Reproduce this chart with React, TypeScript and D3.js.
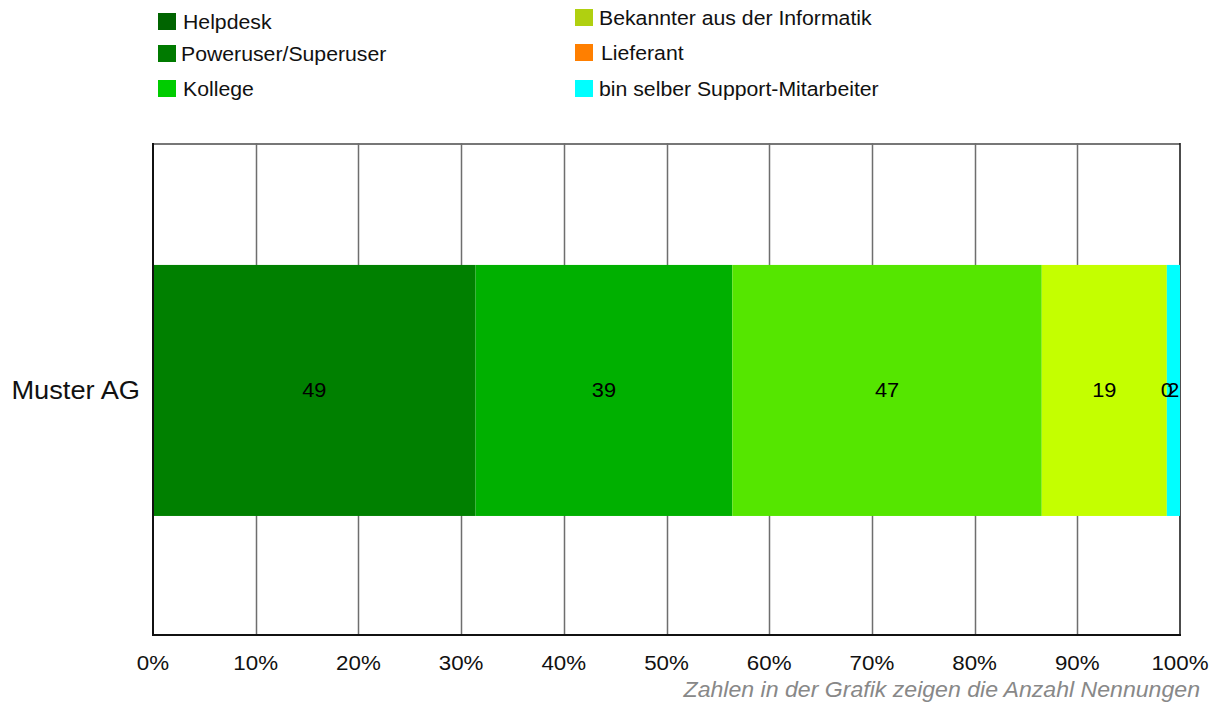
import React from "react";
import * as d3 from "d3";

const categories = ["Muster AG"];
const seriesNames = [
  "Helpdesk",
  "Poweruser/Superuser",
  "Kollege",
  "Bekannter aus der Informatik",
  "Lieferant",
  "bin selber Support-Mitarbeiter",
];
const seriesValues = [49, 39, 47, 19, 0, 2];
const barColors = ["#008000", "#00b000", "#55e600", "#c4ff00", "#ff8000", "#00ffff"];
const legendColors = ["#006400", "#007a00", "#00cc00", "#b0d010", "#ff7f00", "#00ffff"];
const tickValues = [0, 0.1, 0.2, 0.3, 0.4, 0.5, 0.6, 0.7, 0.8, 0.9, 1];
const footnote = "Zahlen in der Grafik zeigen die Anzahl Nennungen";

const W = 1226;
const H = 703;
const plot = { left: 153, right: 1180, top: 143, bottom: 635 };
const font = "Liberation Sans, Arial, sans-serif";
const SX = 1.09; // slightly wide text rendering

type TProps = {
  x: number;
  y: number;
  size: number;
  anchor?: "start" | "middle" | "end";
  fill?: string;
  italic?: boolean;
  children: React.ReactNode;
};

function WideText({ x, y, size, anchor = "start", fill = "#111", italic, children }: TProps) {
  return (
    <text
      transform={`translate(${x},${y}) scale(${SX},1)`}
      textAnchor={anchor}
      fontSize={size}
      fontStyle={italic ? "italic" : "normal"}
      fill={fill}
    >
      {children}
    </text>
  );
}

export default function App() {
  const x = d3.scaleLinear().domain([0, 1]).range([plot.left, plot.right]);
  const y = d3
    .scaleBand()
    .domain(categories)
    .range([plot.top, plot.bottom])
    .paddingInner(0)
    .paddingOuter(0.48)
    .align(0.506);

  const total = d3.sum(seriesValues);
  const stackData = [
    Object.fromEntries(seriesNames.map((n, i) => [n, seriesValues[i] / total])),
  ];
  const stacked = d3.stack<any>().keys(seriesNames)(stackData as any);

  const legendItems = seriesNames.map((name, i) => ({
    name,
    color: legendColors[i],
    col: i < 3 ? 0 : 1,
    row: i % 3,
  }));
  const legendX = [158, 575];
  const legendRowY = [[13, 45, 80], [9, 44, 80]];
  const legendTextDx = [[25, 23, 25], [24, 26, 24]];

  const cat = categories[0];
  const by = y(cat)!;
  const bh = y.bandwidth();

  return (
    <svg
      width={W}
      height={H}
      style={{ position: "absolute", left: 0, top: 0, background: "#fff" }}
      fontFamily={font}
    >
      {/* legend */}
      {legendItems.map((d) => {
        const sy = legendRowY[d.col][d.row];
        return (
          <g key={d.name}>
            <rect x={legendX[d.col]} y={sy} width={18} height={17} fill={d.color} />
            <WideText x={legendX[d.col] + legendTextDx[d.col][d.row]} y={sy + 16} size={19.5}>
              {d.name}
            </WideText>
          </g>
        );
      })}

      {/* top border */}
      <line x1={plot.left} x2={plot.right} y1={plot.top + 1} y2={plot.top + 1} stroke="#777" strokeWidth={2} />

      {/* vertical gridlines */}
      {tickValues.slice(1, -1).map((t) => (
        <line
          key={t}
          x1={Math.round(x(t)) + 0.5}
          x2={Math.round(x(t)) + 0.5}
          y1={plot.top}
          y2={plot.bottom}
          stroke="#6e6e6e"
          strokeWidth={1.5}
        />
      ))}
      <line x1={plot.right} x2={plot.right} y1={plot.top} y2={plot.bottom} stroke="#111" strokeWidth={1.5} />

      {/* stacked bar */}
      {stacked.map((s, i) => {
        const seg = s[0];
        const x0 = x(seg[0]);
        const x1 = x(seg[1]);
        return (
          <rect key={s.key} x={x0} y={by} width={Math.max(0, x1 - x0)} height={bh} fill={barColors[i]} />
        );
      })}
      {stacked.map((s, i) => {
        const seg = s[0];
        const cx = (x(seg[0]) + x(seg[1])) / 2;
        return (
          <WideText key={"l" + s.key} x={cx} y={by + bh / 2 + 7} anchor="middle" size={20} fill="#000">
            {seriesValues[i]}
          </WideText>
        );
      })}

      {/* axes */}
      <line x1={plot.left} x2={plot.left} y1={plot.top} y2={plot.bottom} stroke="#111" strokeWidth={2} />
      <line x1={plot.left - 1} x2={plot.right + 1} y1={plot.bottom} y2={plot.bottom} stroke="#111" strokeWidth={2} />

      {/* category label */}
      <WideText x={140} y={by + bh / 2 + 9} anchor="end" size={25}>
        {cat}
      </WideText>

      {/* tick labels */}
      {tickValues.map((t) => (
        <WideText key={"t" + t} x={x(t)} y={670} anchor="middle" size={20.5}>
          {d3.format(".0%")(t)}
        </WideText>
      ))}

      <WideText x={1200} y={697} anchor="end" size={21.2} italic fill="#888">
        {footnote}
      </WideText>
    </svg>
  );
}
